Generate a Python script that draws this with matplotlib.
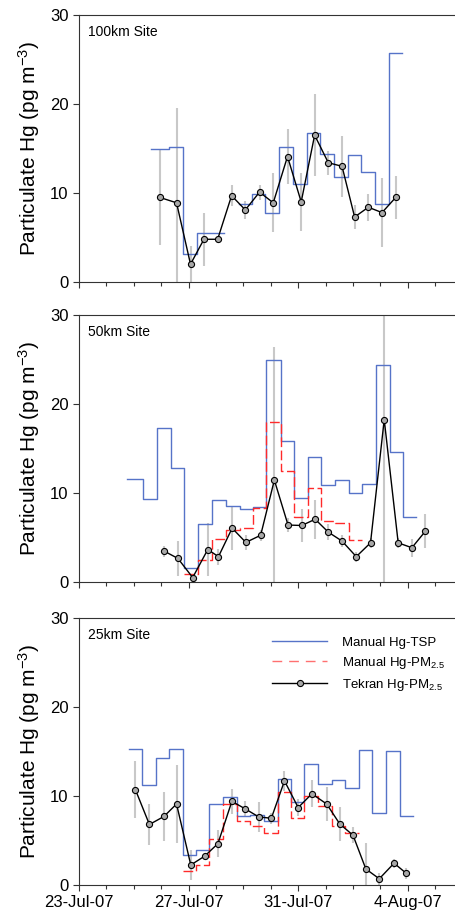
import datetime

import numpy as np
import matplotlib
matplotlib.use('Agg')
import matplotlib.pyplot as plt
import matplotlib.dates as mdates
from matplotlib.lines import Line2D
from matplotlib.ticker import MultipleLocator, FixedLocator

plt.rcParams['font.family'] = ['Liberation Sans', 'DejaVu Sans']
plt.rcParams['mathtext.fontset'] = 'custom'
plt.rcParams['mathtext.rm'] = 'Liberation Sans'
plt.rcParams['mathtext.default'] = 'regular'

# x values are days after 23-Jul-07 00:00
start_date = datetime.datetime(2007, 7, 23)
tick_dates = [datetime.datetime(2007, 7, 23), datetime.datetime(2007, 7, 27),
              datetime.datetime(2007, 7, 31), datetime.datetime(2007, 8, 4)]

site_names = ['100km Site', '50km Site', '25km Site']
legend_labels = ['Manual Hg-TSP', 'Manual Hg-PM$_{2.5}$', 'Tekran Hg-PM$_{2.5}$']

# 100km site
tek1_day = [2.95, 3.56, 4.07, 4.56, 5.06, 5.57, 6.07, 6.59, 7.09, 7.61, 8.11, 8.60, 9.10, 9.60,
            10.06, 10.56, 11.06, 11.56]
tek1_val = [9.5, 8.9, 2.0, 4.8, 4.8, 9.7, 8.1, 10.1, 8.9, 14.1, 9.0, 16.5, 13.4, 13.0, 7.3, 8.4, 7.8, 9.5]
tek1_err = [5.35, 10.6, 2.1, 3.0, 0.3, 1.15, 1.0, 0.85, 3.3, 3.1, 3.3, 4.6, 1.35, 3.4, 1.3, 1.5, 3.9, 2.4]
tsp1_edges = [2.63, 3.30, 3.80, 4.31, 4.81, 5.30, 5.85, 6.30, 6.79, 7.30, 7.80, 8.31, 8.81, 9.30, 9.80,
              10.30, 10.80, 11.30, 11.79]
tsp1_val = [15.0, 15.2, 3.2, 5.45, 5.45, np.nan, 8.8, 9.9, 7.75, 15.15, 11.0, 16.7, 14.4, 11.8, 14.25,
            12.4, 8.75, 25.7]
pm1_edges = []
pm1_val = []

# 50km site
tek2_day = [3.12, 3.61, 4.15, 4.70, 5.09, 5.59, 6.09, 6.63, 7.13, 7.63, 8.13, 8.62, 9.10, 9.60, 10.12,
            10.64, 11.14, 11.65, 12.15, 12.64]
tek2_val = [3.45, 2.65, 0.5, 3.65, 2.85, 6.05, 4.45, 5.25, 11.45, 6.4, 6.35, 7.05, 5.6, 4.6, 2.85, 4.4,
            18.25, 4.4, 3.85, 5.7]
tek2_err = [0.6, 2.0, 0.2, 3.0, 0.9, 2.5, 0.8, 0.6, 15.0, 0.75, 1.9, 2.2, 0.9, 0.65, 0.55, 0.55, 18.3,
            0.55, 1.0, 1.9]
tsp2_edges = [1.75, 2.35, 2.84, 3.36, 3.85, 4.35, 4.86, 5.36, 5.86, 6.36, 6.84, 7.36, 7.85, 8.34, 8.84,
              9.35, 9.85, 10.34, 10.84, 11.34, 11.83, 12.29]
tsp2_val = [11.6, 9.3, 17.25, 12.8, 1.6, 6.55, 9.25, 8.55, 8.15, 8.45, 24.9, 15.8, 9.4, 14.0, 10.85,
            11.45, 10.0, 11.0, 24.4, 14.65, 7.35]
pm2_edges = [3.85, 4.35, 4.86, 5.36, 5.86, 6.36, 6.84, 7.36, 7.85, 8.34, 8.84, 9.35, 9.85, 10.34]
pm2_val = [0.95, 2.5, 4.85, 5.85, 6.1, 8.3, 18.0, 12.45, 7.3, 10.55, 6.8, 6.65, 4.7]

# 25km site
tek3_day = [2.06, 2.57, 3.10, 3.56, 4.08, 4.59, 5.07, 5.58, 6.07, 6.56, 7.02, 7.50, 8.00, 8.50, 9.04,
            9.52, 10.00, 10.47, 10.96, 11.50, 11.95]
tek3_val = [10.7, 6.8, 7.7, 9.1, 2.25, 3.25, 4.65, 9.4, 8.55, 7.65, 7.5, 11.7, 8.7, 10.25, 9.1, 6.85,
            5.6, 1.8, 0.7, 2.45, 1.3]
tek3_err = [3.2, 2.3, 2.8, 4.4, 1.7, 0.4, 1.5, 1.4, 0.9, 1.7, 0.6, 1.1, 1.0, 1.5, 1.9, 1.9, 0.9, 2.9,
            0.7, 0.5, 0.6]
tsp3_edges = [1.82, 2.30, 2.81, 3.30, 3.78, 4.27, 4.76, 5.25, 5.76, 6.24, 6.74, 7.25, 7.75, 8.23, 8.74,
              9.22, 9.71, 10.22, 10.70, 11.21, 11.70, 12.19]
tsp3_val = [15.3, 11.2, 14.25, 15.3, 3.35, 3.95, 9.1, 9.9, 7.8, 7.9, 7.2, 11.95, 9.3, 13.6, 11.4, 11.8,
            10.9, 15.15, 8.1, 15.1, 7.8]
pm3_edges = [3.78, 4.27, 4.76, 5.25, 5.76, 6.24, 6.74, 7.25, 7.75, 8.23, 8.74, 9.22, 9.71, 10.22]
pm3_val = [1.6, 2.2, 5.15, 9.15, 7.15, 6.65, 5.85, 10.4, 7.5, 9.95, 8.85, 6.6, 5.85]

BLUE = '#5673c8'
RED = '#ff2a2a'
GREY_BAR = '#c8c8c8'
MARKER_FACE = '#a8a8a8'


def to_num(days):
    return mdates.date2num(start_date) + np.asarray(days, dtype=float)


def draw_steps(ax, edges, vals, **kw):
    if len(edges) == 0:
        return
    x = to_num(edges)
    y = list(vals) + [vals[-1]]
    ax.step(x, y, where='post', **kw)


def draw_panel(ax, name, tek_day, tek_val, tek_err, tsp_edges, tsp_val, pm_edges, pm_val, show_labels):
    x = to_num(tek_day)
    ax.errorbar(x, tek_val, yerr=tek_err, fmt='none', ecolor=GREY_BAR, elinewidth=1.5, capsize=0, zorder=1)
    draw_steps(ax, tsp_edges, tsp_val, color=BLUE, lw=1.0, zorder=2)
    draw_steps(ax, pm_edges, pm_val, color=RED, lw=1.0, dashes=(7, 2.5), zorder=3)
    ax.plot(x, tek_val, color='black', lw=1.0, marker='o', markersize=4.4, markerfacecolor=MARKER_FACE,
            markeredgecolor='black', markeredgewidth=0.8, zorder=4)

    ax.set_ylim(0, 30)
    ax.set_xlim(to_num([0.0])[0], to_num([13.76])[0])
    ax.yaxis.set_major_locator(FixedLocator([0, 10, 20, 30]))
    ax.xaxis.set_major_locator(FixedLocator(mdates.date2num(tick_dates)))
    ax.xaxis.set_minor_locator(MultipleLocator(1))
    ax.xaxis.set_major_formatter(mdates.DateFormatter('%-d-%b-%y'))
    ax.tick_params(axis='both', which='major', direction='out', length=4, width=0.8, labelsize=12,
                   colors='#333333', labelcolor='black')
    ax.tick_params(axis='x', which='minor', direction='out', length=3, width=0.8, colors='#333333')
    if not show_labels:
        ax.tick_params(axis='x', which='both', labelbottom=False)
    for sp in ax.spines.values():
        sp.set_color('#333333')
        sp.set_linewidth(0.8)
    ax.set_ylabel('Particulate Hg (pg m$^{-3}$)', fontsize=15, labelpad=6)
    ax.text(0.025, 0.935, name, transform=ax.transAxes, fontsize=10, va='center', ha='left')


def main():
    fig = plt.figure(figsize=(4.56, 9.16), dpi=100)
    ax_w = 377 / 456
    ax_h = 267 / 916
    left = 79 / 456
    bottoms = [(916 - 282) / 916, (916 - 582) / 916, (916 - 885) / 916]
    axes = [fig.add_axes([left, b, ax_w, ax_h]) for b in bottoms]

    draw_panel(axes[0], site_names[0], tek1_day, tek1_val, tek1_err, tsp1_edges, tsp1_val,
               pm1_edges, pm1_val, False)
    draw_panel(axes[1], site_names[1], tek2_day, tek2_val, tek2_err, tsp2_edges, tsp2_val,
               pm2_edges, pm2_val, False)
    draw_panel(axes[2], site_names[2], tek3_day, tek3_val, tek3_err, tsp3_edges, tsp3_val,
               pm3_edges, pm3_val, True)

    handles = [Line2D([], [], color=BLUE, lw=1.0),
               Line2D([], [], color='#ff7070', lw=1.0, dashes=(7, 5)),
               Line2D([], [], color='black', lw=1.0, marker='o', markersize=4.4,
                      markerfacecolor=MARKER_FACE, markeredgecolor='black', markeredgewidth=0.8)]
    axes[2].legend(handles, legend_labels, loc='upper left', bbox_to_anchor=(0.512, 0.93), frameon=False,
                   fontsize=9.5, handlelength=4.2, handletextpad=1.1, labelspacing=0.45, borderpad=0,
                   borderaxespad=0, numpoints=1)

    fig.savefig('out.png', dpi=100)


if __name__ == '__main__':
    main()
